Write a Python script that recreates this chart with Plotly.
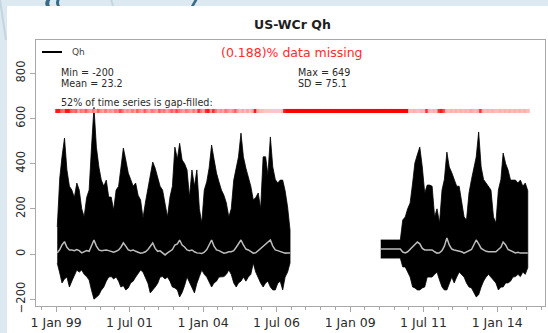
import pandas as pd
import plotly.graph_objects as go

# ---------------------------------------------------------------------------
# Site / variable
site = "US-WCr"
variable = "Qh"

# Monthly envelope (max / min) and running mean of the half-hourly Qh series, W m-2
# Segment 1: Jan 1999 .. Dec 2006
seg1_start = "1999-01-01"
seg1_max = [120, 336, 430, 513, 372, 300, 283, 250, 314, 283, 200, 164,
            250, 283, 470, 649, 473, 385, 327, 300, 327, 252, 252, 195,
            283, 300, 380, 469, 416, 358, 330, 300, 314, 260, 239, 159,
            230, 296, 340, 407, 380, 336, 300, 283, 220, 164, 252, 300,
            473, 420, 490, 416, 400, 372, 252, 372, 300, 372, 200, 137,
            283, 320, 380, 482, 420, 358, 320, 283, 260, 226, 164, 200,
            327, 380, 430, 535, 430, 380, 341, 300, 239, 250, 270, 200,
            430, 430, 350, 518, 385, 330, 314, 327, 327, 280, 208, 106]
seg1_min = [-40, -84, -128, -110, -102, -146, -120, -100, -71, -80, -71, -90,
            -100, -115, -159, -200, -190, -181, -160, -146, -120, -102, -100, -110,
            -102, -120, -146, -140, -159, -150, -128, -120, -102, -90, -71, -80,
            -102, -130, -172, -160, -146, -130, -102, -100, -110, -102, -120, -146,
            -150, -159, -190, -170, -140, -102, -128, -150, -172, -130, -100, -71,
            -90, -102, -120, -146, -128, -120, -102, -102, -100, -90, -71, -90,
            -128, -146, -128, -120, -102, -120, -102, -90, -40, -80, -102, -128,
            -146, -128, -120, -146, -159, -159, -130, -120, -159, -102, -80, -40]
seg1_mean = [5, 20, 40, 55, 30, 18, 18, 15, 20, 15, 5, 10,
             15, 12, 40, 62, 35, 18, 15, 18, 18, 15, 10, 8,
             12, 18, 30, 49, 35, 18, 15, 18, 12, 8, 4, 6,
             10, 20, 35, 49, 25, 12, 14, 5, -4, 5, 12, 20,
             40, 45, 62, 40, 31, 18, 15, 18, 10, 5, 4, 2,
             8, 20, 40, 62, 35, 18, 15, 8, 4, 6, 10, 10,
             15, 30, 45, 62, 40, 22, 18, 10, 4, 5, 15, 25,
             35, 45, 55, 62, 35, 18, 15, 12, 8, 4, 5, 4]

# Gap-filled block: Jan .. Sep 2010
block_start = "2010-01-01"
block_max = [62] * 9
block_min = [-18] * 9
block_mean = [22] * 9

# Segment 2: Oct 2010 .. Jan 2015
seg2_max = [150, 164, 200, 226, 314, 403, 440, 473, 385, 270, 305, 305,
            300, 164, 200, 137, 283, 330, 451, 385, 360, 327, 300, 300,
            240, 164, 150, 270, 330, 380, 430, 540, 385, 330, 314, 300,
            283, 164, 137, 283, 330, 447, 400, 372, 327, 327, 327, 314,
            327, 300, 314, 280]
seg2_min = [-57, -57, -80, -102, -146, -150, -159, -159, -150, -146, -102, -102,
            -102, -90, -80, -115, -146, -159, -159, -128, -102, -128, -102, -80,
            -90, -102, -128, -146, -150, -172, -190, -180, -146, -120, -102, -90,
            -102, -115, -128, -159, -146, -146, -128, -128, -120, -102, -100, -90,
            -100, -80, -90, -60]
seg2_mean = [9, 5, 10, 20, 30, 40, 53, 45, 25, 18, 18, 15,
             18, 10, 4, 5, 15, 35, 71, 40, 22, 18, 15, 15,
             10, 4, 10, 15, 20, 40, 62, 45, 25, 18, 12, 10,
             10, 12, 10, 20, 30, 53, 40, 20, 15, 10, 5, 8,
             4, 4, 5, 5]

# Fraction of each month that is gap-filled, Jan 1999 .. Jan 2015
gapfill_start = "1999-01-01"
gapfill_frac = ([0.9, 0.9, 0.6, 0.5, 0.9, 0.9, 0.6, 0.5, 0.6, 0.3, 0.5, 0.4,
                 0.6, 0.4, 0.3, 0.5, 0.3, 0.6, 0.4, 0.3, 0.5, 0.3, 0.4, 0.3,
                 0.5, 0.4, 0.7, 0.5, 0.3, 0.4, 0.3, 0.5, 0.3, 0.6, 0.4, 0.3,
                 0.6, 0.4, 0.3, 0.5, 0.4, 0.3, 0.6, 0.4, 0.5, 0.3, 0.4, 0.6,
                 0.4, 0.7, 0.5, 0.4, 0.3, 0.5, 0.4, 0.3, 0.5, 0.3, 0.8, 0.5,
                 0.3, 0.8, 0.9, 0.4, 0.8, 0.5, 0.3, 0.4, 0.3, 0.5, 0.4, 0.3,
                 0.4, 0.6, 0.3, 0.2, 0.3, 0.2, 0.3, 0.2, 0.3, 0.9, 0.3, 0.2,
                 0.2, 0.15, 0.15, 0.15, 0.15, 0.15, 0.15, 0.15, 0.15, 0.9, 1.0, 1.0]
                + [1.0] * 48
                + [0.2, 0.2, 0.25, 0.2, 0.2, 0.25, 0.2, 0.8, 0.25, 0.2, 0.25, 0.2,
                   0.8, 0.9, 0.7, 0.25, 0.2, 0.25, 0.2, 0.25, 0.2, 0.25, 0.2, 0.25,
                   0.2, 0.3, 0.25, 0.2, 0.25, 0.8, 0.25, 0.2, 0.25, 0.2, 0.25, 0.2,
                   0.2, 0.25, 0.2, 0.25, 0.2, 0.25, 0.2, 0.25, 0.2, 0.25, 0.2, 0.25,
                   0.2])

# Summary statistics of the half-hourly series
pct_missing = 0.188
pct_gapfilled = 52
stat_mean = 23.2
stat_sd = 75.1
stat_min = min(seg1_min + block_min + seg2_min)
stat_max = max(seg1_max + block_max + seg2_max)

x_tick_dates = ["1999-01-01", "2001-07-01", "2004-01-01", "2006-07-01",
                "2009-01-01", "2011-07-01", "2014-01-01"]
x_tick_labels = ["1 Jan 99", "1 Jul 01", "1 Jan 04", "1 Jul 06",
                 "1 Jan 09", "1 Jul 11", "1 Jan 14"]
y_ticks = [-200, 0, 200, 400, 600, 800]

# ---------------------------------------------------------------------------
W, H = 548, 333
ML, MR, MT, MB = 36, 3, 40, 27
PW, PH = W - ML - MR, H - MT - MB


def xp(px):
    return (px - ML) / PW


def yp(py):
    return (H - MB - py) / PH


def month_centres(start, n):
    return list(pd.date_range(start, periods=n, freq="MS") + pd.Timedelta(days=15))


GAPFILL_Y = 633

fig = go.Figure()

# the block runs straight into the second measured period
segments = [
    (seg1_start, seg1_max, seg1_min, seg1_mean),
    (block_start, block_max + seg2_max, block_min + seg2_min, block_mean + seg2_mean),
]

for start, hi, lo, mu in segments:
    t = month_centres(start, len(hi))
    fig.add_trace(go.Scatter(
        x=t + t[::-1], y=hi + lo[::-1],
        mode="lines", fill="toself", fillcolor="black",
        line=dict(color="black", width=0.8),
        hoverinfo="skip", showlegend=False,
    ))
    fig.add_trace(go.Scatter(
        x=t, y=mu, mode="lines",
        line=dict(color="#bdbdbd", width=1.5),
        hoverinfo="skip", showlegend=False,
    ))


def red_shade(f):
    g = max(0, min(255, int(round(232 * (1 - f)))))
    return f"rgb(255,{g},{g})"


fig.add_trace(go.Scatter(
    x=month_centres(gapfill_start, len(gapfill_frac)),
    y=[GAPFILL_Y] * len(gapfill_frac),
    mode="markers",
    marker=dict(symbol="square", size=4, color=[red_shade(f) for f in gapfill_frac],
                line=dict(width=0)),
    hoverinfo="skip", showlegend=False,
))

FONT = "DejaVu Sans, Liberation Sans, Arial, sans-serif"
GRID = "#a8a8a8"
TXT = "#2a2a2a"

shapes = [
    # white panel over the light-blue page
    dict(type="rect", xref="paper", yref="paper", x0=xp(7), x1=xp(W + 2),
         y0=yp(H + 2), y1=yp(6), fillcolor="white", line=dict(width=0),
         layer="below"),
    # decorative strokes in the page header
    dict(type="path", xref="paper", yref="paper",
         path=f"M {xp(47)} {yp(-1)} Q {xp(44)} {yp(3)} {xp(46)} {yp(6)} L {xp(50)} {yp(6)} Q {xp(48)} {yp(3)} {xp(51)} {yp(-1)} Z",
         fillcolor="#3b6a84", line=dict(width=0), layer="below"),
    dict(type="path", xref="paper", yref="paper",
         path=f"M {xp(57)} {yp(-1)} Q {xp(55)} {yp(3)} {xp(57)} {yp(6)} L {xp(60)} {yp(6)} Q {xp(58)} {yp(3)} {xp(60)} {yp(-1)} Z",
         fillcolor="#3b6a84", line=dict(width=0), layer="below"),
    dict(type="path", xref="paper", yref="paper",
         path=f"M {xp(195)} {yp(-1)} L {xp(198)} {yp(-1)} L {xp(194)} {yp(6)} L {xp(191)} {yp(6)} Z",
         fillcolor="#3b6a84", line=dict(width=0), layer="below"),
    dict(type="line", xref="paper", yref="paper", x0=xp(111), x1=xp(113),
         y0=yp(-1), y1=yp(6), line=dict(color="#c3d6e0", width=2), layer="below"),
    dict(type="line", xref="paper", yref="paper", x0=xp(0), x1=xp(6),
         y0=yp(0), y1=yp(40), line=dict(color="#c3d6e0", width=2), layer="below"),
    # legend key
    dict(type="line", xref="paper", yref="paper", x0=xp(42), x1=xp(62),
         y0=yp(52), y1=yp(52), line=dict(color="black", width=2)),
]


def label(text, px, py, size, color=TXT, anchor="left"):
    return dict(text=text, x=xp(px), y=yp(py), xref="paper", yref="paper",
                xanchor=anchor, yanchor="middle", showarrow=False,
                borderpad=0, font=dict(size=size, color=color, family=FONT))


annotations = [
    label(f"<b>{site} {variable}</b>", 292, 24, 12.5, "#1e1e1e", "center"),
    label(variable, 71, 52, 9, "#444444"),
    label(f"({pct_missing})% data missing", 292, 52, 12.5, "#ff2a2a", "center"),
    label(f"Min = {stat_min}", 60, 72, 9.6),
    label(f"Mean = {stat_mean}", 60, 83, 9.6),
    label(f"Max = {stat_max}", 297, 72, 9.6),
    label(f"SD = {stat_sd}", 297, 83, 9.6),
    label(f"{pct_gapfilled}% of time series is gap-filled:", 60, 102, 9.6),
]

minor_ticks = list(pd.date_range("1998-07-01", "2015-07-01", freq="6MS"))

fig.update_layout(
    width=W, height=H,
    margin=dict(l=ML, r=MR, t=MT, b=MB, pad=0),
    paper_bgcolor="#dce9f0",
    plot_bgcolor="rgba(0,0,0,0)",
    showlegend=False,
    shapes=shapes,
    annotations=annotations,
    xaxis=dict(
        type="date",
        range=["1998-04-27", "2015-08-18"],
        tickmode="array", tickvals=x_tick_dates, ticktext=x_tick_labels,
        ticks="outside", ticklen=5, tickcolor=GRID, tickwidth=1,
        showline=True, linecolor=GRID, linewidth=1, mirror=True,
        showgrid=False, zeroline=False,
        tickfont=dict(size=12.5, color=TXT, family=FONT),
        minor=dict(tickmode="array", tickvals=minor_ticks, ticks="outside",
                   ticklen=3, tickcolor=GRID, showgrid=False),
    ),
    yaxis=dict(
        range=[-230, 947],
        tickmode="array", tickvals=y_ticks,
        ticks="outside", ticklen=5, tickcolor=GRID, tickwidth=1,
        tickangle=-90,
        showline=True, linecolor=GRID, linewidth=1, mirror=True,
        showgrid=False, zeroline=False,
        tickfont=dict(size=11.5, color=TXT, family=FONT),
    ),
)

fig.write_html("out.html")
